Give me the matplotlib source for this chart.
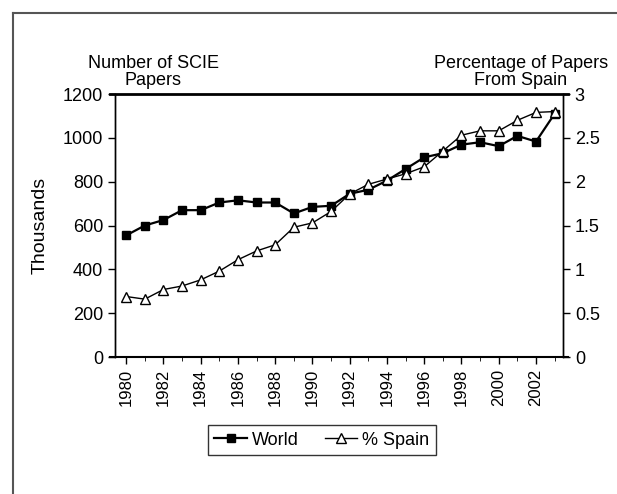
import matplotlib
matplotlib.use('Agg')
import matplotlib.pyplot as plt
from matplotlib.lines import Line2D

plt.rcParams['font.family'] = ['Liberation Sans Narrow', 'Liberation Sans', 'DejaVu Sans']

years = list(range(1980, 2004))
world = [555, 600, 625, 670, 670, 705, 715, 705, 705, 655, 685, 690,
         745, 763, 805, 858, 911, 930, 969, 980, 962, 1009, 983, 1110]
spain = [0.69, 0.66, 0.77, 0.81, 0.88, 0.98, 1.11, 1.21, 1.28, 1.48, 1.53, 1.66,
         1.86, 1.97, 2.03, 2.09, 2.17, 2.35, 2.53, 2.58, 2.58, 2.70, 2.79, 2.80]
xticks = list(range(1980, 2003, 2))

fig = plt.figure(figsize=(6.17, 4.94), dpi=100)
ax = fig.add_axes([0.1864, 0.2773, 0.7261, 0.5324])
ax2 = ax.twinx()

ax.plot(years, world, color='black', lw=1.6, marker='s', ms=5.5, label='World')
ax2.plot(years, spain, color='black', lw=1.0, marker='^', ms=6.5,
         markerfacecolor='white', markeredgewidth=1.0, label='% Spain')

ax.set_xlim(1979.4, 2003.45)
ax.set_ylim(0, 1200)
ax2.set_ylim(0, 3)
ax.set_yticks(range(0, 1201, 200))
ax2.set_yticks([0, 0.5, 1, 1.5, 2, 2.5, 3])
ax2.set_yticklabels(['0', '0.5', '1', '1.5', '2', '2.5', '3'])
ax.set_xticks(xticks)
ax.set_xticks(years, minor=True)
ax.set_xticklabels([str(y) for y in xticks], rotation=90)

for a in (ax, ax2):
    a.tick_params(axis='y', which='both', direction='out', labelsize=13, length=5, width=1)
    for s in a.spines.values():
        s.set_linewidth(1.0)
ax.tick_params(axis='x', which='major', direction='out', labelsize=12, length=5, width=1)
ax.tick_params(axis='x', which='minor', direction='out', length=3)
ax.spines['top'].set_visible(False)
ax2.spines['top'].set_visible(False)
ax.spines['bottom'].set_visible(False)
ax2.spines['bottom'].set_visible(False)
ax.plot([-0.012, 1.012], [1, 1], transform=ax.transAxes, color='black', lw=2.0, clip_on=False)
ax.plot([-0.012, 1.012], [0, 0], transform=ax.transAxes, color='black', lw=1.5, clip_on=False)

ax.set_ylabel('Thousands', fontsize=14, labelpad=10)

fig.text(153 / 617, 1 - 72 / 494, 'Number of SCIE\nPapers', ha='center', va='center',
         fontsize=13, linespacing=1.0)
fig.text(521 / 617, 1 - 72 / 494, 'Percentage of Papers\nFrom Spain', ha='center', va='center',
         fontsize=13, linespacing=1.0)

h1, l1 = ax.get_legend_handles_labels()
h2, l2 = ax2.get_legend_handles_labels()
leg = fig.legend(h1 + h2, l1 + l2, loc='center', bbox_to_anchor=(322 / 617, 1 - 440 / 494),
                 ncol=2, fontsize=13, frameon=True, fancybox=False, edgecolor='black',
                 handlelength=1.8, columnspacing=1.4, borderpad=0.35, handletextpad=0.3)
leg.get_frame().set_linewidth(1.0)

# outer frame (left and top edges only)
fig.add_artist(Line2D([13 / 617, 13 / 617], [1 - 493 / 494, 1 - 13 / 494], color='#555555', lw=1.5))
fig.add_artist(Line2D([13 / 617, 1.0], [1 - 13 / 494, 1 - 13 / 494], color='#555555', lw=1.5))

fig.savefig('out.png', dpi=100)
